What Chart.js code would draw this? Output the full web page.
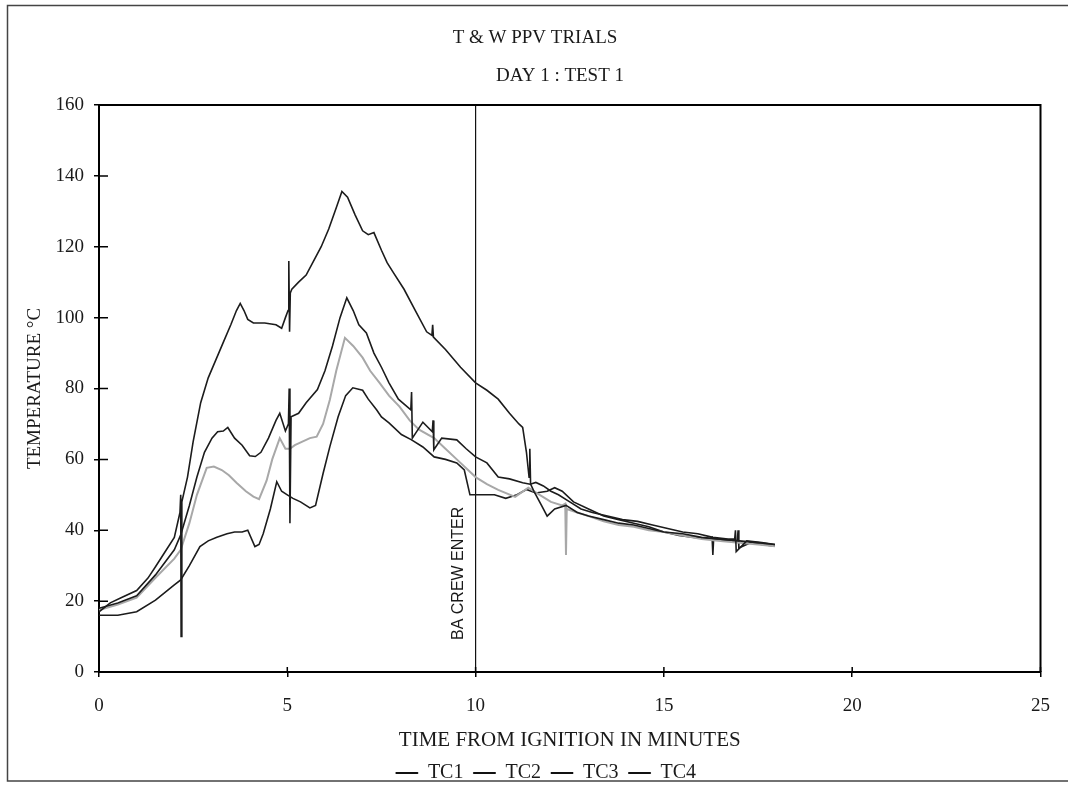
<!DOCTYPE html>
<html lang="en">
<head>
    <meta charset="UTF-8">
    <title>T & W PPV TRIALS</title>
    <script src="https://cdn.jsdelivr.net/npm/chart.js"></script>
    <style>
        body { margin: 0; background: #ffffff; }
        canvas { display: block; }
    </style>
</head>
<body>
    <canvas id="grafica" width="1068" height="786"></canvas>

    <script>
        // Thermocouple readings (minutes, deg C)
        const timeTC1 = [0, 0.3, 0.6, 1.0, 1.3, 1.5, 1.7, 2.0, 2.15, 2.17, 2.18, 2.2, 2.35, 2.5, 2.7, 2.9, 3.1, 3.3, 3.5, 3.65, 3.75, 3.85, 3.95, 4.1, 4.4, 4.7, 4.85, 4.95, 5.02, 5.04, 5.06, 5.08, 5.12, 5.3, 5.5, 5.7, 5.9, 6.1, 6.3, 6.45, 6.6, 6.8, 7.0, 7.15, 7.3, 7.5, 7.65, 7.8, 8.1, 8.4, 8.7, 8.84, 8.86, 8.88, 9.2, 9.6, 10.0, 10.3, 10.6, 10.9, 11.15, 11.25, 11.35, 11.42, 11.44, 11.46, 11.55, 11.75, 11.9, 12.1, 12.4, 12.7, 13.0, 13.4, 13.8, 14.2, 14.6, 15.0, 15.5, 16.0, 16.5, 17.0, 17.5, 17.95];
        const tempTC1 = [17, 19.5, 21, 23, 26.5, 29.7, 33, 38, 45, 50, 10, 48, 55, 65, 76, 83, 88, 93, 98, 102, 104, 102, 99.5, 98.5, 98.5, 98, 97, 100, 102, 116, 96, 107, 108, 110, 112, 116, 120, 125, 131, 135.6, 134, 129, 124.5, 123.4, 124, 119, 115.5, 113, 108, 102, 96, 95, 98, 94.5, 91, 86, 81.6, 79.5, 77, 73, 70, 69, 62, 55, 63, 53, 51, 47, 44, 46, 47, 45, 44, 43, 42, 41.5, 40.5, 39.5, 39, 38, 37.5, 37, 36.5, 36];

        const timeTC2 = [0, 0.5, 1.0, 1.5, 2.0, 2.17, 2.4, 2.6, 2.8, 3.0, 3.15, 3.3, 3.42, 3.6, 3.8, 4.0, 4.15, 4.3, 4.5, 4.7, 4.8, 4.95, 5.03, 5.05, 5.07, 5.1, 5.3, 5.5, 5.8, 6.0, 6.2, 6.4, 6.58, 6.75, 6.9, 7.1, 7.3, 7.5, 7.7, 7.95, 8.28, 8.3, 8.32, 8.6, 8.85, 8.87, 8.89, 9.1, 9.5, 9.75, 10.0, 10.3, 10.6, 10.9, 11.25, 11.45, 11.6, 11.8, 12.0, 12.2, 12.5, 12.8, 13.1, 13.5, 13.9, 14.3, 14.7, 15.1, 15.5, 15.9, 16.3, 16.7, 16.88, 16.9, 16.92, 17.2, 17.6, 17.95];
        const tempTC2 = [18, 19.5, 21.5, 27.4, 34.5, 38.7, 47, 55, 62, 66, 67.8, 68, 69, 66, 64, 61, 60.8, 62, 66, 71, 73, 68, 70, 80, 42, 72, 73, 76, 79.7, 85, 92, 100, 105.6, 102, 98, 95.7, 90, 86, 81.6, 77, 74, 79, 66, 70.5, 67.8, 71, 62.7, 66, 65.5, 63, 60.7, 59, 55, 54.5, 53.4, 53, 53.5, 52.5, 51, 50, 48, 46, 45, 44, 43, 42.5, 41.5, 40.5, 39.5, 39, 38, 37.5, 37.5, 40, 34, 37, 36.5, 36];

        const timeTC3 = [0, 0.5, 1.0, 1.5, 2.0, 2.17, 2.4, 2.6, 2.86, 3.05, 3.26, 3.45, 3.65, 3.9, 4.1, 4.25, 4.45, 4.6, 4.72, 4.8, 4.95, 5.07, 5.2, 5.4, 5.6, 5.78, 5.95, 6.13, 6.3, 6.53, 6.75, 7.0, 7.2, 7.45, 7.7, 7.98, 8.25, 8.5, 8.9, 9.2, 9.5, 9.8, 10.0, 10.3, 10.6, 11.05, 11.4, 11.7, 12.0, 12.3, 12.38, 12.4, 12.42, 12.7, 13.0, 13.4, 13.8, 14.2, 14.6, 15.0, 15.5, 16.0, 16.5, 17.0, 17.5, 17.95];
        const tempTC3 = [17.5, 19, 21, 26.6, 32, 34.5, 42, 50, 57.6, 58, 57, 55.5, 53.4, 51, 49.5, 48.8, 54, 60, 63.6, 66, 63, 63, 64, 65, 66, 66.4, 70, 76.8, 85, 94.3, 92, 88.7, 85, 81.6, 78, 74.9, 71, 68.4, 66, 63, 60, 57, 55, 53, 51.4, 49.4, 52, 50, 48, 47, 47.5, 33, 46, 45, 44, 42.5, 41.5, 41, 40, 39.5, 38.5, 37.5, 37, 36.5, 36, 35.5];

        const timeTC4 = [0, 0.5, 1.0, 1.5, 2.0, 2.17, 2.4, 2.68, 2.9, 3.13, 3.4, 3.6, 3.8, 3.95, 4.14, 4.25, 4.36, 4.55, 4.72, 4.85, 5.0, 5.15, 5.35, 5.6, 5.75, 5.95, 6.13, 6.35, 6.55, 6.74, 7.0, 7.15, 7.37, 7.5, 7.7, 8.03, 8.3, 8.6, 8.9, 9.2, 9.5, 9.7, 9.85, 10.2, 10.5, 10.8, 11.1, 11.35, 11.6, 11.9, 12.1, 12.3, 12.6, 13.0, 13.4, 13.8, 14.2, 14.6, 15.0, 15.4, 15.8, 16.2, 16.28, 16.3, 16.32, 16.6, 16.95, 16.97, 16.99, 17.3, 17.6, 17.95];
        const tempTC4 = [16, 16, 17, 20.3, 24.6, 26, 30, 35.4, 37, 38, 39, 39.5, 39.5, 40, 35.4, 36, 39, 46, 53.7, 51, 50, 49, 48, 46.3, 47, 56, 63.6, 72, 78, 80.2, 79.5, 77, 74, 72, 70.3, 67, 65.5, 63.5, 60.7, 60, 59, 57, 50, 50, 50, 49, 50, 51.5, 50.5, 51, 52, 51, 48, 46, 44, 43, 42, 41, 39.5, 38.5, 38, 37.5, 38, 33, 37.5, 37, 37, 40, 35, 36.5, 36, 35.5];

        // marker for the BA crew entry
        const crewTime = [10, 10];
        const crewTemp = [0, 160];
        const crewLabel = "BA CREW ENTER";

        const xTicks = [0, 5, 10, 15, 20, 25];
        const yTicks = [0, 20, 40, 60, 80, 100, 120, 140, 160];

        const serif = "'Liberation Serif', 'Times New Roman', serif";
        const ink = "#1a1a1a";

        function puntos(ts, vs) {
            return ts.map((t, i) => ({ x: t, y: vs[i] }));
        }

        function serie(label, ts, vs, color, width) {
            return {
                label: label,
                data: puntos(ts, vs),
                borderColor: color,
                backgroundColor: color,
                borderWidth: width,
                pointRadius: 0,
                tension: 0,
                fill: false
            };
        }

        // page frame, plot frame, inner tick marks, titles and the crew label
        const decoracion = {
            id: 'decoracion',
            afterLayout(chart) {
                // legend sits a bit right of the canvas centre in the original
                chart.legend.left += 25;
                chart.legend.right += 25;
            },
            afterDraw(chart) {
                const ctx = chart.ctx;
                const area = chart.chartArea;
                const sx = chart.scales.x;
                const sy = chart.scales.y;
                ctx.save();

                ctx.strokeStyle = "#444";
                ctx.lineWidth = 1.5;
                ctx.beginPath();
                ctx.moveTo(1068, 5.5); ctx.lineTo(7.5, 5.5); ctx.lineTo(7.5, 781); ctx.lineTo(1068, 781);
                ctx.stroke();

                ctx.strokeStyle = "#000";
                ctx.lineWidth = 2;
                ctx.beginPath();
                ctx.moveTo(area.left, area.top); ctx.lineTo(area.right, area.top); ctx.lineTo(area.right, area.bottom);
                ctx.stroke();

                ctx.lineWidth = 1.5;
                ctx.beginPath();
                yTicks.forEach(v => {
                    const py = sy.getPixelForValue(v);
                    ctx.moveTo(area.left, py); ctx.lineTo(area.left + 9, py);
                });
                xTicks.forEach(v => {
                    const px = sx.getPixelForValue(v);
                    ctx.moveTo(px, area.bottom); ctx.lineTo(px, area.bottom - 5);
                });
                ctx.stroke();

                ctx.fillStyle = ink;
                ctx.textAlign = "center";
                ctx.textBaseline = "middle";
                ctx.font = "19px " + serif;
                ctx.fillText("T & W PPV TRIALS", 535, 38);
                ctx.fillText("DAY 1 : TEST 1", 560, 76);

                ctx.translate(sx.getPixelForValue(crewTime[0]) - 17, 640);
                ctx.rotate(-Math.PI / 2);
                ctx.textAlign = "left";
                ctx.font = "16px 'Liberation Sans', Arial, sans-serif";
                ctx.fillText(crewLabel, 0, 0);
                ctx.restore();
            }
        };

        const ctx = document.getElementById('grafica').getContext('2d');
        new Chart(ctx, {
            type: 'line',
            data: {
                datasets: [
                    serie("TC1", timeTC1, tempTC1, "#1c1c1c", 1.6),
                    serie("TC2", timeTC2, tempTC2, "#1c1c1c", 1.6),
                    serie("TC3", timeTC3, tempTC3, "#a8a8a8", 2),
                    serie("TC4", timeTC4, tempTC4, "#1c1c1c", 1.6),
                    serie(crewLabel, crewTime, crewTemp, "#111", 1.2)
                ]
            },
            options: {
                responsive: false,
                animation: false,
                layout: { padding: { top: 105, right: 26, bottom: -7, left: 0 } },
                plugins: {
                    tooltip: { enabled: false },
                    title: { display: false },
                    legend: {
                        position: 'bottom',
                        labels: {
                            color: ink,
                            font: { family: serif, size: 20 },
                            boxWidth: 22,
                            boxHeight: 1,
                            padding: 10,
                            generateLabels(chart) {
                                return Chart.defaults.plugins.legend.labels.generateLabels(chart)
                                    .filter(l => l.datasetIndex < 4)
                                    .map(l => Object.assign(l, { fillStyle: "#111", strokeStyle: "#111", lineWidth: 1 }));
                            }
                        }
                    }
                },
                scales: {
                    x: {
                        type: 'linear',
                        min: 0,
                        max: 25,
                        afterBuildTicks(s) { s.ticks = xTicks.map(v => ({ value: v })); },
                        afterFit(s) { s.height = 81; },
                        ticks: { color: ink, font: { family: serif, size: 19 }, padding: 18, maxRotation: 0 },
                        grid: { drawOnChartArea: false, color: "#000", lineWidth: 1.5, tickLength: 5 },
                        border: { color: "#000", width: 2 },
                        title: {
                            display: true,
                            text: "TIME FROM IGNITION IN MINUTES",
                            color: ink,
                            font: { family: serif, size: 21 },
                            padding: { top: 0, bottom: 0 }
                        }
                    },
                    y: {
                        min: 0,
                        max: 160,
                        afterBuildTicks(s) { s.ticks = yTicks.map(v => ({ value: v })); },
                        afterFit(s) { s.width = 99; },
                        ticks: { color: ink, font: { family: serif, size: 19 }, padding: 10 },
                        grid: { drawOnChartArea: false, color: "#000", lineWidth: 1.5, tickLength: 5 },
                        border: { color: "#000", width: 2 },
                        title: {
                            display: true,
                            text: "TEMPERATURE °C",
                            color: ink,
                            font: { family: serif, size: 19 },
                            padding: { top: 24, bottom: 0 }
                        }
                    }
                }
            },
            plugins: [decoracion]
        });
    </script>
</body>
</html>
